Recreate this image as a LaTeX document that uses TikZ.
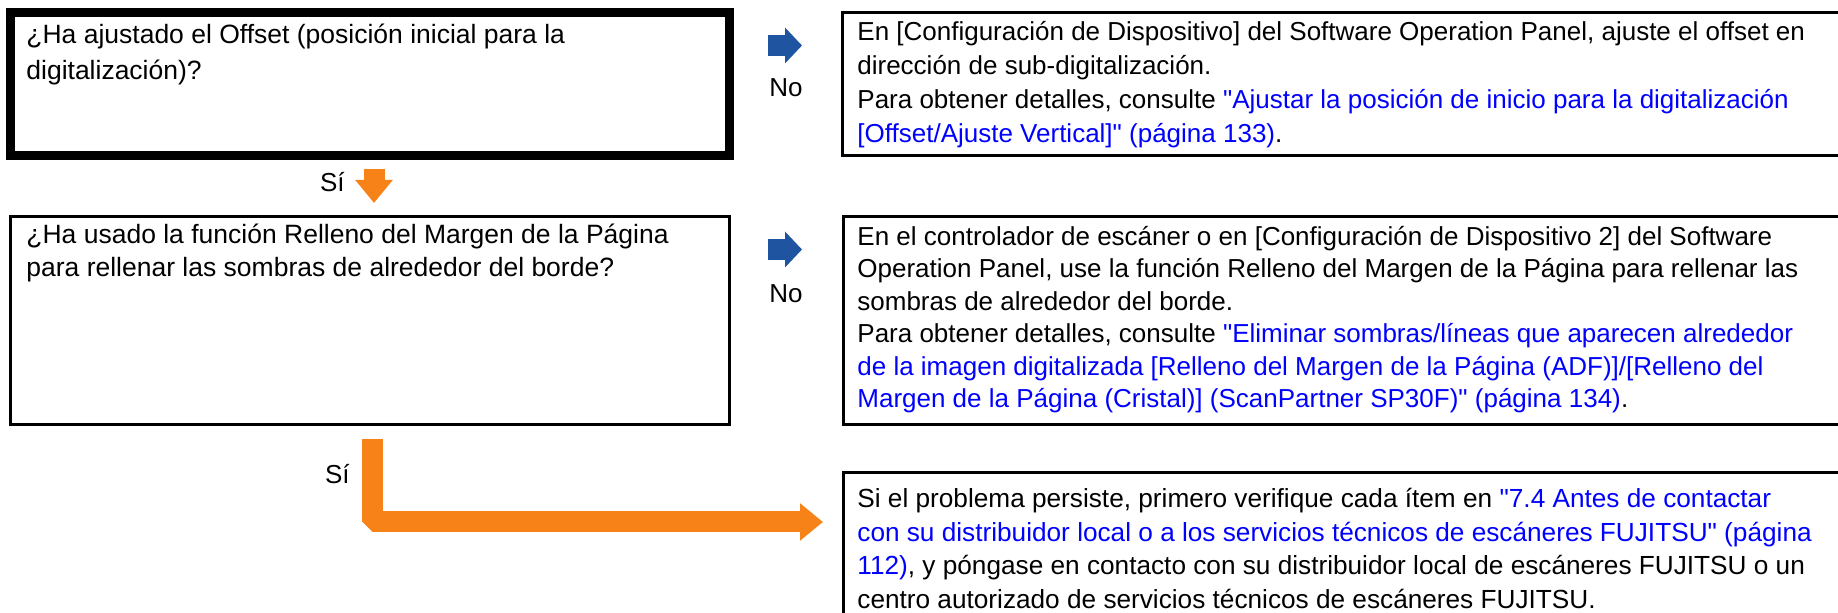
\documentclass[tikz,border=0pt]{standalone}
\usepackage{fontspec}
\setmainfont{Liberation Sans}[Ligatures=TeXOff]
\usepackage{xcolor}
\usetikzlibrary{arrows.meta,positioning}
\definecolor{arrowblue}{RGB}{31,84,160}
\definecolor{arroworange}{RGB}{247,130,24}
\definecolor{linkblue}{RGB}{0,0,255}
\newcommand{\lnk}[1]{\textcolor{linkblue}{#1}}

\begin{document}
\begin{tikzpicture}[x=0.5pt,y=-0.5pt, node distance=2pt,
  qbox/.style={draw,line width=1.5pt,outer sep=0pt,inner sep=0pt,anchor=north west},
  txt/.style={anchor=north west,inner sep=0pt,align=left},
  lbl/.style={inner sep=0pt,font=\fontsize{13}{15}\selectfont},
  noarrow/.style={arrowblue,line width=10.5pt,-{Triangle[length=8.5pt,width=17.5pt]}},
  siarrow/.style={arroworange,line width=10.5pt,line join=bevel,-{Triangle[length=11.5pt,width=18pt]}}]
\useasboundingbox (0,0) rectangle (1838,613);
\clip (0,0) rectangle (1838,613);
% question boxes
\node[qbox,line width=4.5pt,minimum width=359.25pt,minimum height=71.75pt] (q1) at (10.5,12.5) {};
\node[qbox,minimum width=359.5pt,minimum height=104pt] (q2) at (10,217) {};
% answer boxes
\node[qbox,minimum width=504pt,minimum height=71.5pt] (a1) at (842,12.5) {};
\node[qbox,minimum width=503.5pt,minimum height=104pt] (a2) at (843,217) {};
\node[qbox,minimum width=503.5pt,minimum height=80pt] (a3) at (843,473) {};
% texts
\node[txt,font=\fontsize{13.25}{17.75}\selectfont] (q1t) at (26,24) {¿Ha ajustado el Offset (posición inicial para la\\digitalización)?};
\node[txt,font=\fontsize{13.25}{16.5}\selectfont] (q2t) at (26,224) {¿Ha usado la función Relleno del Margen de la Página\\para rellenar las sombras de alrededor del borde?};
\node[txt,font=\fontsize{13}{17}\selectfont] (a1t) at (857,21) {En [Configuración de Dispositivo] del Software Operation Panel, ajuste el offset en\\
  dirección de sub-digitalización.\\
  Para obtener detalles, consulte \lnk{"Ajustar la posición de inicio para la digitalización}\\
  \lnk{[Offset/Ajuste Vertical]" (página 133)}.};
\node[txt,font=\fontsize{13}{16.2}\selectfont] (a2t) at (857,226) {En el controlador de escáner o en [Configuración de Dispositivo 2] del Software\\
  Operation Panel, use la función Relleno del Margen de la Página para rellenar las\\
  sombras de alrededor del borde.\\
  Para obtener detalles, consulte \lnk{"Eliminar sombras/líneas que aparecen alrededor}\\
  \lnk{de la imagen digitalizada [Relleno del Margen de la Página (ADF)]/[Relleno del}\\
  \lnk{Margen de la Página (Cristal)] (ScanPartner SP30F)" (página 134)}.};
\node[txt,font=\fontsize{13.1}{16.8}\selectfont] (a3t) at (857,488) {Si el problema persiste, primero verifique cada ítem en \lnk{"7.4 Antes de contactar}\\
  \lnk{con su distribuidor local o a los servicios técnicos de escáneres FUJITSU" (página}\\
  \lnk{112)}, y póngase en contacto con su distribuidor local de escáneres FUJITSU o un\\
  centro autorizado de servicios técnicos de escáneres FUJITSU.};
% No arrows
\coordinate (n1s) at (768,45.5);
\coordinate (n1e) at (802,45.5);
\coordinate (n2s) at (768,249.5);
\coordinate (n2e) at (802,249.5);
\draw[noarrow] (n1s) -- (n1e);
\draw[noarrow] (n2s) -- (n2e);
\node[lbl,anchor=base] (no1) at (786,97) {No};
\node[lbl,anchor=base] (no2) at (786,303) {No};
% Si arrows
\coordinate (s1s) at (374,169);
\coordinate (s1e) at (374,203);
\draw[siarrow] (s1s) -- (s1e);
\node[lbl,anchor=base east] (si1) at (345,192) {Sí};
\coordinate (s2s) at (372.5,439);
\coordinate (s2e) at ([xshift=-10pt]a3.west |- 0,522);
\draw[siarrow] (s2s) |- (s2e);
\node[lbl,anchor=base east] (si2) at (350,484) {Sí};
\end{tikzpicture}
\end{document}
